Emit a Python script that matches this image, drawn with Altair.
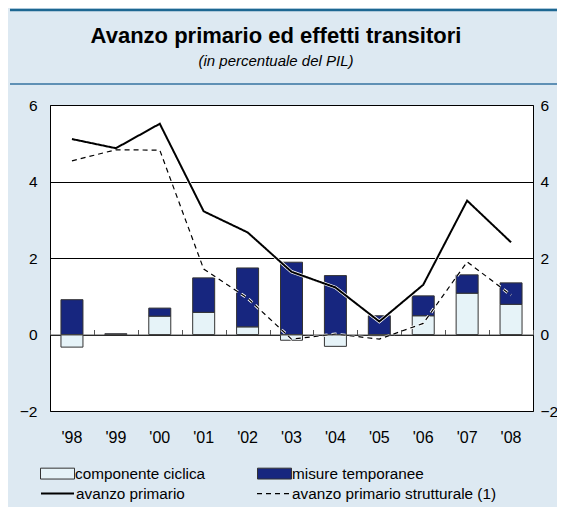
import altair as alt
import pandas as pd

years = ["'98", "'99", "'00", "'01", "'02", "'03", "'04", "'05", "'06", "'07", "'08"]
ciclica = [-0.33, 0.0, 0.48, 0.58, 0.20, -0.15, -0.31, -0.03, 0.49, 1.08, 0.79]
misure = [0.91, 0.02, 0.21, 0.90, 1.54, 1.89, 1.54, 0.49, 0.52, 0.48, 0.56]
avanzo = [5.11, 4.87, 5.51, 3.22, 2.67, 1.64, 1.23, 0.34, 1.30, 3.50, 2.41]
strutturale = [4.54, 4.83, 4.82, 1.71, 0.95, -0.12, 0.01, -0.12, 0.29, 1.90, 1.03]
y_ticks = [-2, 0, 2, 4, 6]

title_text = "Avanzo primario ed effetti transitori"
subtitle_text = "(in percentuale del PIL)"
bar_names = ["componente ciclica", "misure temporanee"]
line_names = ["avanzo primario", "avanzo primario strutturale (1)"]

bars_df = pd.DataFrame(
    [{"anno": y, "serie": bar_names[0], "ord": 0, "valore": v} for y, v in zip(years, ciclica)]
    + [{"anno": y, "serie": bar_names[1], "ord": 1, "valore": v} for y, v in zip(years, misure)]
)
lines_df = pd.DataFrame(
    [{"anno": y, "serie": line_names[0], "valore": v} for y, v in zip(years, avanzo)]
    + [{"anno": y, "serie": line_names[1], "valore": v} for y, v in zip(years, strutturale)]
)
solid_df = pd.DataFrame({"anno": years, "valore": avanzo})
dash_df = pd.DataFrame({"anno": years, "valore": strutturale})

FONT = "Liberation Sans"
BG = "#dde9f2"
yscale = alt.Scale(domain=[-2, 6], nice=False, zero=False)
xscale = alt.Scale(domain=years, paddingInner=0, paddingOuter=0)

bars = alt.Chart(bars_df).mark_bar(size=22, stroke="#333333", strokeWidth=1).encode(
    x=alt.X("anno:N", scale=xscale, sort=years, title=None,
            axis=alt.Axis(orient="bottom", ticks=False, domain=False, labelAngle=0,
                          labelFont=FONT, labelFontSize=16, labelColor="black",
                          labelPadding=18, labelBaseline="top")),
    y=alt.Y("valore:Q", scale=yscale, stack="zero", title=None,
            axis=alt.Axis(orient="left", values=y_ticks, ticks=False, domain=False,
                          grid=True, gridColor="black", gridWidth=1, gridOpacity=1,
                          labelFont=FONT, labelFontSize=15.5, labelColor="black",
                          labelPadding=13)),
    fill=alt.Fill("serie:N",
                  scale=alt.Scale(domain=bar_names, range=["#e6f3f8", "#17267f"]),
                  legend=alt.Legend(title=None, orient="none", legendX=-10, legendY=351,
                                    direction="horizontal", columns=2, columnPadding=49,
                                    symbolType="M-1,-0.32H1V0.32H-1Z", symbolSize=1156,
                                    symbolStrokeColor="#333333", symbolStrokeWidth=1,
                                    symbolOpacity=1, labelFont=FONT, labelFontSize=15.3,
                                    labelColor="black", labelOffset=0, labelLimit=300)),
    order=alt.Order("ord:Q"),
)

casing_solid = alt.Chart(solid_df).mark_line(color="white", strokeWidth=3.5).encode(
    x=alt.X("anno:N", scale=xscale, sort=years, axis=None),
    y=alt.Y("valore:Q", scale=yscale, axis=None),
)
casing_dash = alt.Chart(dash_df).mark_line(color="white", strokeWidth=3, strokeDash=[5, 4]).encode(
    x=alt.X("anno:N", scale=xscale, sort=years, axis=None),
    y=alt.Y("valore:Q", scale=yscale, axis=None),
)

lines = alt.Chart(lines_df).mark_line(color="black").encode(
    x=alt.X("anno:N", scale=xscale, sort=years, title=None,
            axis=alt.Axis(orient="top", offset=-229.5, labels=False, ticks=True,
                          tickBand="extent", tickSize=5, tickColor="#555555",
                          domain=True, domainColor="#555555", domainWidth=1, zindex=1)),
    y=alt.Y("valore:Q", scale=yscale, title=None,
            axis=alt.Axis(orient="right", values=y_ticks, ticks=False, domain=False,
                          grid=False, labelFont=FONT, labelFontSize=15.5,
                          labelColor="black", labelPadding=7)),
    strokeDash=alt.StrokeDash("serie:N",
                              scale=alt.Scale(domain=line_names, range=[[1, 0], [5, 4]]),
                              legend=alt.Legend(title=None, orient="none", legendX=-10,
                                                legendY=371, direction="horizontal",
                                                columns=2, columnPadding=69,
                                                symbolType="stroke", symbolSize=1089,
                                                symbolStrokeColor="black",
                                                symbolStrokeWidth=1.5,
                                                labelFont=FONT, labelFontSize=15.3,
                                                labelColor="black", labelOffset=1,
                                                labelLimit=300)),
    strokeWidth=alt.StrokeWidth("serie:N",
                                scale=alt.Scale(domain=line_names, range=[2, 1.2]),
                                legend=None),
)

one = pd.DataFrame({"k": [0]})
banner_top = alt.Chart(one).mark_rule(color="#1d6792", strokeWidth=2.5).encode(
    x=alt.value(-40), x2=alt.value(520), y=alt.value(-95))
banner_sep = alt.Chart(one).mark_rule(color="#5f90b5", strokeWidth=2).encode(
    x=alt.value(-40), x2=alt.value(520), y=alt.value(-21))
title_mark = alt.Chart(one).mark_text(
    font=FONT, fontSize=22, fontWeight="bold", color="black", align="center",
    baseline="alphabetic").encode(
    x=alt.value(226), y=alt.value(-62), text=alt.value(title_text))
subtitle_mark = alt.Chart(one).mark_text(
    font=FONT, fontSize=15, fontStyle="italic", color="black", align="center",
    baseline="alphabetic").encode(
    x=alt.value(226), y=alt.value(-39), text=alt.value(subtitle_text))

chart = alt.layer(banner_top, banner_sep, title_mark, subtitle_mark,
                  bars, casing_solid, casing_dash, lines).properties(
    width=483,
    height=306,
    autosize="none",
    padding={"left": 42, "top": 97, "right": 24, "bottom": 96},
    background=BG,
).configure_view(
    fill="white", stroke="black", strokeWidth=1
)

chart.save("out.html", embed_options={"renderer": "svg", "actions": False})
